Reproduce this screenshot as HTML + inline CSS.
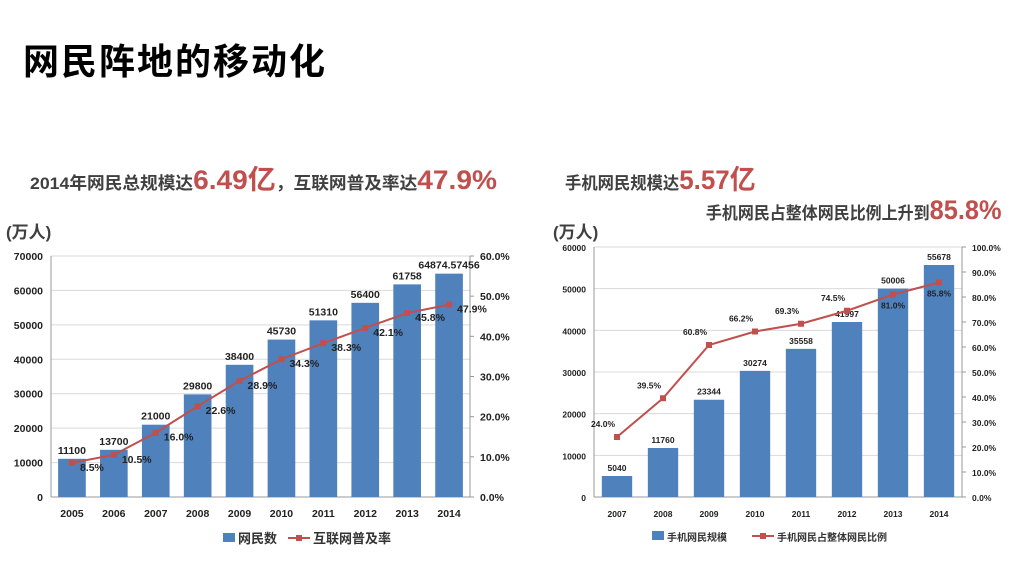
<!DOCTYPE html>
<html><head><meta charset="utf-8"><style>
body{margin:0;width:1024px;height:576px;background:#fff;overflow:hidden;position:relative;font-family:"Liberation Sans","Noto Sans CJK SC",sans-serif}
.t{position:absolute;white-space:nowrap;font-weight:bold}
.r{color:#c0504d;font-size:27px}
.g{color:#404040;font-size:17px}
svg{position:absolute;left:0;top:0}
</style></head><body>
<div class="t" style="left:23px;top:33px;font-size:36px;color:#000;letter-spacing:2px">网民阵地的移动化</div>
<div class="t" style="left:30px;top:158px;transform:scaleX(1.04);transform-origin:left"><span class="g">2014年网民总规模达</span><span class="r">6.49亿</span><span class="g">，互联网普及率达</span><span class="r">47.9%</span></div>
<div class="t" style="left:565px;top:158px;transform:scaleX(0.96);transform-origin:left"><span class="g">手机网民规模达</span><span class="r">5.57亿</span></div>
<div class="t" style="right:22px;top:195px;transform:scaleX(0.94);transform-origin:right"><span class="g">手机网民占整体网民比例上升到</span><span class="r">85.8%</span></div>
<div class="t g" style="left:6px;top:218px">(万人)</div>
<div class="t g" style="left:553px;top:218px">(万人)</div>
<svg id="c" width="1024" height="576"></svg>
<script>
const catsA=["2005","2006","2007","2008","2009","2010","2011","2012","2013","2014"];
const barsA=[11100,13700,21000,29800,38400,45730,51310,56400,61758,64874.57456];
const barLabelsA=["11100","13700","21000","29800","38400","45730","51310","56400","61758","64874.57456"];
const rateA=[8.5,10.5,16.0,22.6,28.9,34.3,38.3,42.1,45.8,47.9];
const ticksLA=[0,10000,20000,30000,40000,50000,60000,70000];
const ticksRA=[0,10,20,30,40,50,60];
const catsB=["2007","2008","2009","2010","2011","2012","2013","2014"];
const barsB=[5040,11760,23344,30274,35558,41997,50006,55678];
const rateB=[24.0,39.5,60.8,66.2,69.3,74.5,81.0,85.8];
const ticksLB=[0,10000,20000,30000,40000,50000,60000];
const ticksRB=[0,10,20,30,40,50,60,70,80,90,100];
const svg=document.getElementById('c');const NS="http://www.w3.org/2000/svg";
function mk(tag,attrs,text){const e=document.createElementNS(NS,tag);for(const k in attrs)e.setAttribute(k,attrs[k]);if(text!==undefined)e.textContent=text;svg.appendChild(e);return e;}
function chart(o){
 const {x0,x1,y0,y1,cats,bars,labels,rate,tl,tr,lmax,rmax,fs,pfx}=o;
 const n=cats.length,step=(x1-x0)/n;
 const X=i=>x0+step*(i+0.5),Y=v=>y0-(v/lmax)*(y0-y1),R=v=>y0-(v/rmax)*(y0-y1);
 tl.forEach(t=>{let l=mk('line',{x1:x0,x2:x1,y1:Y(t),y2:Y(t),stroke:'#d9d9d9','stroke-width':1});
  
  let tx=mk('text',{x:x0-8,y:Y(t)+4,'text-anchor':'end','font-size':fs,'font-weight':'bold',fill:'#222'},t);
  });
 tr.forEach(t=>{let tx=mk('text',{x:x1+10,y:R(t)+4,'font-size':fs,'font-weight':'bold',fill:'#222'},t.toFixed(1)+'%');
  
  mk('line',{x1:x1,x2:x1+4,y1:R(t),y2:R(t),stroke:'#999'});});
 mk('line',{x1:x0,x2:x0,y1:y1,y2:y0,stroke:'#999'});mk('line',{x1:x1,x2:x1,y1:y1,y2:y0,stroke:'#999'});
 mk('line',{x1:x0,x2:x1,y1:y0,y2:y0,stroke:'#999'});
 const bw=step*0.66;
 bars.forEach((v,i)=>{let b=mk('rect',{x:X(i)-bw/2,y:Y(v),width:bw,height:y0-Y(v),fill:'#4f81bd'});
  
  let t=mk('text',{x:X(i),y:Y(v)-5,'text-anchor':'middle','font-size':fs,'font-weight':'bold',fill:'#222'},labels[i]);
  
  let c=mk('text',{x:X(i),y:y0+20,'text-anchor':'middle','font-size':fs,'font-weight':'bold',fill:'#222'},cats[i]);
  });
 let l=mk('polyline',{points:rate.map((v,i)=>X(i)+','+R(v)).join(' '),fill:'none',stroke:'#c0504d','stroke-width':2});
 
 rate.forEach((v,i)=>{let p=mk('rect',{x:X(i)-3,y:R(v)-3,width:6,height:6,fill:'#c0504d'});
  
  let pos=o.rlab(i,X(i),R(v));
  let t=mk('text',{x:pos[0],y:pos[1],'text-anchor':pos[2],'font-size':fs,'font-weight':'bold',fill:'#222'},v.toFixed(1)+'%');
  });
}
chart({x0:51,x1:470,y0:497,y1:256,cats:catsA,bars:barsA,labels:barLabelsA,rate:rateA,tl:ticksLA,tr:ticksRA,lmax:70000,rmax:60,fs:10.5,pfx:'a-',
 rlab:(i,x,y)=>[x+8,y+8,'start']});
chart({x0:594,x1:962,y0:497,y1:247,cats:catsB,bars:barsB,labels:barsB.map(String),rate:rateB,tl:ticksLB,tr:ticksRB,lmax:60000,rmax:100,fs:8.5,pfx:'b-',
 rlab:(i,x,y)=>i>=6?[x,y+14,'middle']:[x-14,y-10,'middle']});
function leg(x,y,items,fs){items.forEach(it=>{
 if(it.t==='bar'){let r=mk('rect',{x:it.x,y:y-5,width:12,height:9,fill:'#4f81bd'});}
 else{mk('line',{x1:it.x,x2:it.x+22,y1:y,y2:y,stroke:'#c0504d','stroke-width':2});let r=mk('rect',{x:it.x+8,y:y-3,width:6,height:6,fill:'#c0504d'});}
 let t=mk('text',{x:it.x+(it.t==='bar'?15:25),y:y+5,'font-size':fs,fill:'#333','font-weight':'bold'},it.l);
 });}
leg(0,538,[{t:'bar',x:223,l:'网民数'},{t:'line',x:288,l:'互联网普及率'}],13);
leg(0,536,[{t:'bar',x:652,l:'手机网民规模'},{t:'line',x:752,l:'手机网民占整体网民比例'}],10);
</script>
</body></html>
